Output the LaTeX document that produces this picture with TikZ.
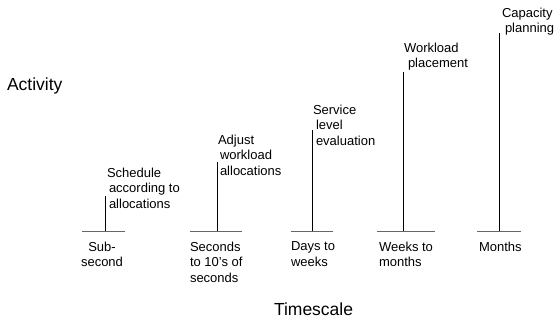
\documentclass[tikz,border=0pt]{standalone}
\usepackage{fontspec}
\setmainfont{Liberation Sans}
\usetikzlibrary{positioning}

\begin{document}
\begin{tikzpicture}[x=1pt,y=-1pt,every node/.style={inner sep=0pt,outer sep=0pt},
    lab/.style={font=\fontsize{13}{15.5}\selectfont,align=left,anchor=north west},
    big/.style={font=\fontsize{17.5}{20}\selectfont,anchor=north west},
    bar/.style={line width=1pt,black!60},
    stem/.style={line width=1pt,black}]
    \useasboundingbox (0,0) rectangle (556,325);
    \foreach \n/\x/\l/\r/\t in {1/105/82/125/196,2/217/190/242/162,3/312/291/333/130,4/403/377/435/72,5/499/477/521/33}{
        \coordinate (l\n) at (\l,231);
        \coordinate (r\n) at (\r,231);
        \coordinate (b\n) at (\x,231);
        \coordinate (t\n) at (\x,\t);
        \draw[bar] (l\n) -- (r\n);
        \draw[stem] (b\n) -- (t\n);
    }
    % activities
    \node[lab,right=2pt of t1,anchor=north west,yshift=28pt] (a1) {Schedule\\\hspace*{2pt}according to\\\hspace*{2pt}allocations};
    \node[lab,right=1pt of t2,anchor=north west,yshift=27pt] (a2) {Adjust\\\hspace*{2pt}workload\\\hspace*{2pt}allocations};
    \node[lab,right=1pt of t3,anchor=north west,yshift=25pt] (a3) {Service\\\hspace*{3pt}level\\\hspace*{3pt}evaluation};
    \node[lab,right=1pt of t4,anchor=north west,yshift=29pt] (a4) {Workload\\\hspace*{4pt}placement};
    \node[lab,right=3pt of t5,anchor=north west,yshift=25pt] (a5) {Capacity\\\hspace*{3pt}planning};
    % timescales
    \node[lab,below=11pt of b1,xshift=-3pt,align=center] (s1) {Sub-\\second};
    \node[lab,below right=11pt and 0pt of l2] (s2) {Seconds\\to 10's of\\seconds};
    \node[lab,below right=11pt and 0pt of l3] (s3) {Days to\\weeks};
    \node[lab,below right=11pt and 2pt of l4] (s4) {Weeks to\\months};
    \node[lab,below right=11pt and 2pt of l5] (s5) {Months};
    % axis titles
    \node[big] (act) at (7,78) {Activity};
    \node[big] (time) at (274,303) {Timescale};
\end{tikzpicture}
\end{document}
